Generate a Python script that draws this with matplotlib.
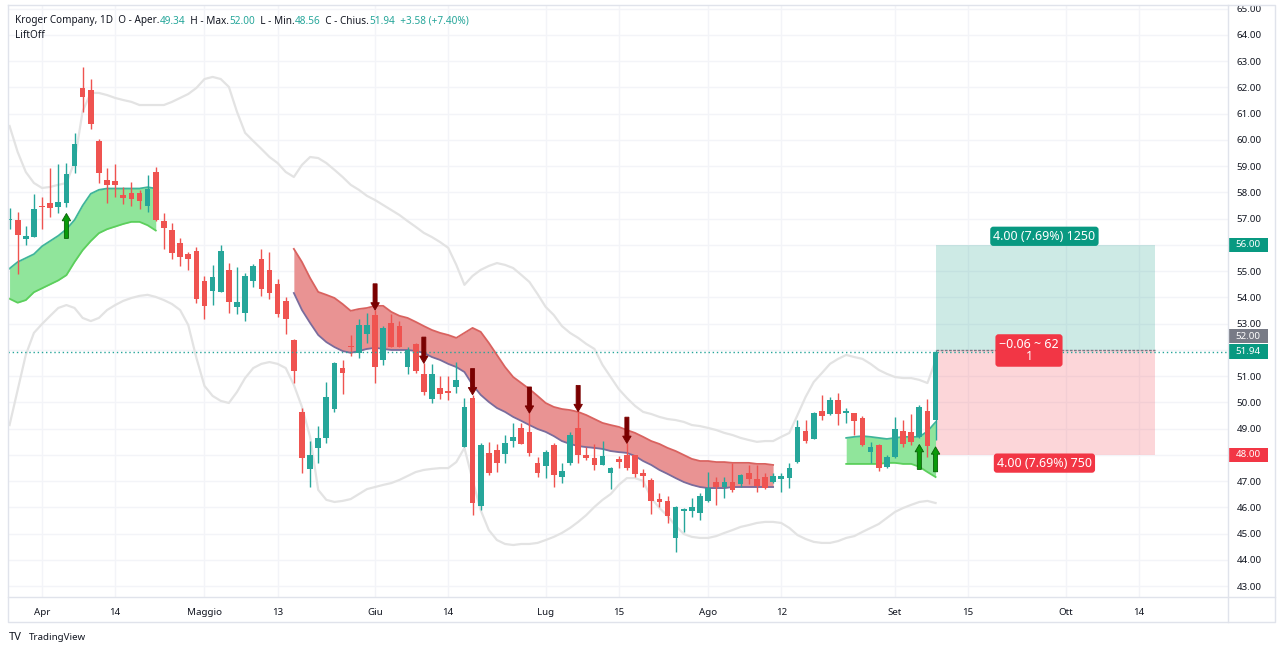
import matplotlib
matplotlib.use("Agg")
import matplotlib.pyplot as plt
from matplotlib.patches import Rectangle
from matplotlib.transforms import IdentityTransform, blended_transform_factory
import numpy as np

plt.rcParams["font.family"] = ["Noto Sans", "DejaVu Sans"]

# ---- data (bar index 0 = 1 Apr 2022, daily bars) ----
first_bar = -4
opens = [56.95, 56.95, 56.23, 56.32, 57.5, 57.59, 57.46, 57.59, 59.01, 61.97,
         61.9, 59.96, 58.48, 58.45, 57.9, 57.97, 57.99, 57.49, 58.79, 56.91,
         56.57, 56.06, 55.64, 55.77, 54.64, 54.25, 54.22, 55.05, 53.63, 53.42,
         54.64, 55.45, 55.05, 54.5, 53.88, 52.38, 49.63, 47.46, 48.28, 48.64,
         49.75, 51.33, 52.15, 51.9, 52.61, 53.33, 51.62, 53.04, 52.91, 51.36,
         52.23, 51.09, 50.12, 50.56, 50.45, 50.6, 48.32, 50.16, 46.06, 48.09,
         48.19, 48.04, 48.55, 49.04, 48.89, 47.71, 47.58, 48.38, 47.17, 47.68,
         49.02, 48.0, 47.9, 47.62, 47.3, 47.83, 48.0, 48.0, 47.3, 47.05,
         46.31, 46.26, 44.85, 45.88, 45.87, 45.78, 46.26, 46.96, 46.79, 46.98,
         46.9, 47.3, 47.07, 47.17, 46.98, 47.07, 47.11, 47.75, 48.91, 48.61,
         49.69, 49.56, 50.1, 49.61, 49.59, 49.4, 48.13, 48.38, 47.53, 47.94,
         48.93, 48.89, 48.7, 49.69, 49.34]
highs = [57.4, 57.25, 56.74, 57.93, 57.84, 58.94, 59.1, 59.14, 60.28, 62.77,
         62.32, 60.03, 58.94, 59.09, 58.2, 58.4, 58.1, 58.67, 58.96, 57.23,
         56.83, 56.25, 55.75, 55.94, 54.82, 55.24, 56.0, 55.3, 55.15, 54.94,
         55.28, 55.84, 55.75, 54.69, 54.03, 52.4, 49.78, 48.54, 49.1, 50.79,
         51.55, 51.62, 52.57, 53.17, 53.42, 53.52, 52.9, 53.37, 53.12, 52.13,
         52.28, 51.49, 51.47, 51.01, 51.0, 51.55, 50.16, 50.29, 48.47, 48.51,
         48.42, 48.76, 49.21, 49.23, 49.59, 47.94, 48.19, 48.47, 47.68, 48.89,
         49.65, 48.29, 48.42, 48.54, 47.56, 47.96, 48.44, 48.0, 47.45, 47.11,
         46.56, 46.44, 46.06, 45.97, 46.35, 46.56, 47.36, 47.17, 47.17, 47.68,
         47.28, 47.62, 47.62, 47.3, 47.33, 47.33, 47.71, 49.33, 49.33, 49.65,
         50.29, 50.22, 50.37, 49.78, 49.61, 49.49, 48.51, 48.42, 48.0, 49.44,
         49.33, 49.56, 49.9, 50.12, 52.0]
lows = [56.6, 54.9, 56.0, 56.3, 56.6, 57.08, 57.2, 57.45, 58.75, 61.08,
        60.42, 58.35, 57.61, 57.82, 57.56, 57.5, 57.36, 57.27, 56.9, 55.84,
        55.46, 55.2, 55.05, 53.78, 53.17, 53.71, 54.2, 53.4, 53.37, 53.12,
        54.39, 54.06, 53.94, 53.25, 52.61, 50.73, 47.33, 46.77, 47.68, 48.47,
        49.63, 50.32, 51.77, 51.71, 52.28, 50.73, 51.43, 52.1, 52.1, 51.09,
        51.14, 50.3, 49.97, 50.12, 50.1, 50.35, 48.3, 45.71, 45.9, 47.25,
        47.36, 47.68, 48.32, 48.4, 47.96, 47.17, 47.11, 46.77, 46.95, 47.62,
        47.68, 47.81, 47.43, 47.6, 46.7, 47.5, 47.43, 47.17, 46.77, 45.75,
        46.03, 45.4, 44.32, 45.08, 45.65, 45.52, 46.2, 46.1, 46.35, 46.6,
        46.79, 46.9, 46.6, 46.69, 46.92, 46.6, 46.73, 47.7, 48.44, 48.6,
        49.33, 49.52, 49.14, 49.21, 48.76, 48.35, 47.71, 47.4, 47.49, 47.9,
        48.29, 48.38, 48.65, 47.94, 48.56]
closes = [57.0, 56.38, 56.34, 57.36, 57.45, 57.42, 57.63, 58.7, 59.85, 61.63,
          60.61, 58.73, 58.29, 58.3, 57.78, 57.74, 57.69, 58.12, 56.95, 56.66,
          55.71, 55.55, 55.45, 53.93, 53.68, 54.79, 55.77, 53.82, 53.84, 54.83,
          55.18, 54.31, 54.18, 53.36, 53.17, 51.21, 47.87, 48.0, 48.64, 50.22,
          51.49, 51.14, 52.1, 52.95, 52.95, 51.34, 52.85, 52.13, 52.13, 52.0,
          51.21, 50.41, 51.09, 50.31, 50.37, 50.86, 49.82, 46.18, 48.38, 47.3,
          47.71, 48.44, 48.7, 48.42, 48.06, 47.33, 48.13, 47.24, 47.4, 48.76,
          48.0, 47.87, 47.6, 47.96, 47.52, 47.73, 47.52, 47.28, 47.2, 46.25,
          46.22, 45.68, 46.03, 45.93, 46.03, 46.44, 46.73, 46.77, 46.98, 46.67,
          47.24, 47.07, 46.82, 46.73, 47.2, 47.2, 47.49, 49.05, 48.55, 49.61,
          49.49, 50.1, 49.56, 49.68, 49.31, 48.38, 48.29, 47.49, 47.94, 48.98,
          48.42, 48.51, 49.84, 48.34, 51.94]

bb_upper = [60.53, 59.54, 58.78, 58.36, 58.17, 58.21, 58.29, 58.36, 59.16, 61.1,
            61.79, 61.79, 61.71, 61.6, 61.52, 61.45, 61.33, 61.33, 61.33, 61.33,
            61.45, 61.6, 61.75, 61.98, 62.32, 62.4, 62.32, 62.02, 61.07, 60.27,
            59.96, 59.66, 59.35, 59.12, 58.78, 58.59, 59.05, 59.35, 59.31, 59.12,
            58.86, 58.59, 58.29, 58.1, 57.87, 57.71, 57.52, 57.33, 57.14, 56.91,
            56.69, 56.46, 56.3, 56.11, 55.89, 55.24, 54.48, 54.82, 55.05, 55.2,
            55.31, 55.24, 55.12, 54.86, 54.59, 54.13, 53.64, 53.33, 52.91, 52.65,
            52.46, 52.23, 52.04, 51.43, 50.97, 50.51, 50.17, 49.87, 49.64, 49.56,
            49.45, 49.37, 49.33, 49.26, 49.14, 49.1, 49.03, 48.95, 48.84, 48.76,
            48.65, 48.57, 48.5, 48.53, 48.53, 48.69, 48.84, 49.52, 50.21, 50.78,
            51.12, 51.47, 51.66, 51.81, 51.73, 51.66, 51.47, 51.24, 51.09, 50.97,
            50.93, 50.93, 50.86, 50.74, 51.6]
bb_lower = [49.14, 50.48, 51.81, 52.65, 52.99, 53.3, 53.6, 53.71, 53.6, 53.22,
            53.1, 53.22, 53.52, 53.71, 53.87, 53.98, 54.06, 54.1, 54.02, 53.9,
            53.75, 53.52, 52.95, 51.7, 50.63, 50.25, 50.06, 49.98, 50.4, 50.93,
            51.31, 51.47, 51.54, 51.47, 51.31, 50.67, 49.83, 48.69, 46.67, 46.29,
            46.21, 46.25, 46.32, 46.51, 46.7, 46.78, 46.86, 46.93, 47.05, 47.2,
            47.35, 47.43, 47.47, 47.5, 47.5, 47.73, 48.27, 47.05, 45.9, 45.14,
            44.76, 44.61, 44.57, 44.61, 44.61, 44.65, 44.76, 44.88, 45.03, 45.22,
            45.45, 45.71, 46.02, 46.29, 46.51, 46.86, 47.12, 47.12, 47.01, 46.36,
            45.98, 45.68, 45.3, 44.99, 44.88, 44.84, 44.84, 44.91, 45.03, 45.14,
            45.26, 45.33, 45.41, 45.45, 45.45, 45.41, 45.22, 44.95, 44.8, 44.69,
            44.65, 44.65, 44.72, 44.84, 44.91, 45.07, 45.22, 45.37, 45.6, 45.83,
            45.98, 46.1, 46.21, 46.25, 46.17]

# LiftOff channels: (first bar, upper edge, lower edge)
green1_start = -4
green1_upper = [55.1, 55.35, 55.5, 55.65, 55.95, 56.15, 56.35, 56.6, 56.95, 57.5,
                57.95, 58.1, 58.15, 58.15, 58.15, 58.15, 58.15, 58.2, 58.15]
green1_lower = [53.95, 53.8, 53.9, 54.2, 54.35, 54.5, 54.65, 54.85, 55.35, 55.8,
                56.15, 56.45, 56.6, 56.7, 56.8, 56.88, 56.88, 56.75, 56.55]
red_start = 31
red_upper = [55.85, 55.35, 54.74, 54.21, 54.1, 53.98, 53.75, 53.49, 53.56, 53.6,
             53.68, 53.68, 53.45, 53.3, 53.22, 53.07, 52.91, 52.76, 52.65, 52.57,
             52.46, 52.65, 52.84, 52.69, 52.27, 51.81, 51.35, 50.97, 50.74, 50.51,
             50.25, 49.98, 49.83, 49.75, 49.71, 49.64, 49.52, 49.37, 49.22, 49.14,
             49.07, 48.95, 48.84, 48.69, 48.53, 48.42, 48.27, 48.15, 48.0, 47.85,
             47.77, 47.77, 47.73, 47.73, 47.7, 47.7, 47.7, 47.66, 47.66, 47.62]
red_lower = [54.17, 53.52, 53.03, 52.57, 52.3, 52.11, 51.96, 51.89, 51.96, 52.04,
             52.08, 52.04, 52.0, 52.0, 52.0, 51.96, 51.89, 51.73, 51.62, 51.47,
             51.35, 51.16, 50.67, 50.29, 50.02, 49.79, 49.64, 49.45, 49.3, 49.14,
             48.99, 48.88, 48.72, 48.53, 48.42, 48.34, 48.3, 48.27, 48.23, 48.15,
             48.11, 48.08, 47.96, 47.77, 47.62, 47.43, 47.28, 47.12, 46.97, 46.86,
             46.78, 46.74, 46.74, 46.74, 46.78, 46.78, 46.78, 46.78, 46.78, 46.78]
green2_start = 99
green2_upper = [48.65, 48.69, 48.72, 48.69, 48.65, 48.61, 48.65, 48.69, 48.69, 48.69,
                48.9, 49.25]
green2_lower = [47.66, 47.66, 47.66, 47.66, 47.66, 47.7, 47.7, 47.66, 47.66, 47.55,
                47.35, 47.16]

buy_bars = [3, 108, 110]
sell_bars = [41, 47, 53, 60, 66, 72]

# long position tool
entry, target, stop = 52.00, 56.00, 48.00
last_close = 51.94
pos_start, pos_end = 110, 137

tick_bars = [0, 9, 20, 29, 41, 50, 62, 71, 82, 91, 105, 114, 126, 135]
tick_labels = ["Apr", "14", "Maggio", "13", "Giu", "14", "Lug", "15", "Ago", "12",
               "Set", "15", "Ott", "14"]

TEAL = "#26a69a"
RED = "#ef5350"
TXT = "#131722"
GRID = "#f3f4f8"

W, H = 1280, 653
fig = plt.figure(figsize=(W / 100, H / 100), dpi=100)
fig.patch.set_facecolor("white")

# axes box in pixels: x 8..1228, y 5..597
ax = fig.add_axes([8 / W, (H - 597) / H, 1220 / W, 592 / H])
ax.set_xlim(-4.19, 146.0)
ax.set_ylim(42.59, 65.14)
for s in ax.spines.values():
    s.set_visible(False)

ax.set_yticks(np.arange(43, 66, 1.0))
ax.set_yticklabels([f"{v:.2f}" for v in np.arange(43, 66, 1.0)])
ax.yaxis.tick_right()
ax.set_xticks(tick_bars)
ax.set_xticklabels(tick_labels)
ax.tick_params(length=0, labelsize=7, colors=TXT)
ax.tick_params(axis="y", pad=6)
ax.tick_params(axis="x", pad=8)
ax.grid(True, color=GRID, lw=1)
ax.set_axisbelow(True)

bars = np.arange(first_bar, first_bar + len(opens))
o, h, l, c = (np.array(a) for a in (opens, highs, lows, closes))

# bollinger-like envelope
ax.plot(bars, bb_upper, color="#e3e3e3", lw=1.6, zorder=1)
ax.plot(bars, bb_lower, color="#e3e3e3", lw=1.6, zorder=1)


def channel(start, upper, lower, fill, c_up, c_lo):
    xs = np.arange(start, start + len(upper))
    ax.fill_between(xs, lower, upper, color=fill, lw=0, zorder=2)
    ax.plot(xs, upper, color=c_up, lw=1.3, zorder=2)
    ax.plot(xs, lower, color=c_lo, lw=1.3, zorder=2)


channel(green1_start, green1_upper, green1_lower, "#90e59b", "#3fb59a", "#5ccf5c")
channel(red_start, red_upper, red_lower, "#e99393", "#d9625f", "#7a6c9c")
channel(green2_start, green2_upper, green2_lower, "#90e59b", "#3fb59a", "#5ccf5c")

# candles
cols = np.where(c >= o, TEAL, RED)
ax.vlines(bars, l, h, colors=cols, lw=1, zorder=3)
ax.bar(bars, np.maximum(np.abs(c - o), 0.05), bottom=np.minimum(o, c), width=0.7,
       color=cols, lw=0, zorder=3)

# signal arrows
for b in sell_bars:
    top = highs[b - first_bar]
    ax.arrow(b, top + 1.0, 0, -0.72, width=0.5, head_width=1.05, head_length=0.28,
             length_includes_head=False, color="#7a0000", lw=0.6, zorder=4)
for b in buy_bars:
    bot = lows[b - first_bar] - 0.25
    ax.arrow(b, bot - 0.95, 0, 0.67, width=0.5, head_width=1.05, head_length=0.28,
             length_includes_head=False, fc="#0a9a0a", ec="#075f07", lw=0.6, zorder=4)

# position tool
ax.fill_between([pos_start, pos_end], entry, target, color="#089981", alpha=0.2, lw=0, zorder=2)
ax.fill_between([pos_start, pos_end], stop, entry, color="#f23645", alpha=0.2, lw=0, zorder=2)
ax.plot([pos_start, pos_end], [entry, entry], color="#787b86", lw=1, ls=(0, (2, 1)), zorder=3)
ax.axhline(last_close, color=TEAL, lw=1, ls=(0, (1, 2)), zorder=3)

mid = (pos_start + pos_end) / 2
lab = dict(color="white", fontsize=9, ha="center", zorder=6)
ax.text(mid - 0.1, target + 0.33, f"{target - entry:.2f} (7.69%) 1250", va="center",
        bbox=dict(boxstyle="round,pad=0.25,rounding_size=0.25", fc="#089981", ec="none"), **lab)
ax.text(mid - 0.1, stop - 0.31, f"{entry - stop:.2f} (7.69%) 750", va="center",
        bbox=dict(boxstyle="round,pad=0.25,rounding_size=0.25", fc="#f23645", ec="none"), **lab)
ax.text(mid - 2.0, entry - 0.02, "\u22120.06 ~ 62\n1", va="center", linespacing=0.9,
        bbox=dict(boxstyle="round,pad=0.3,rounding_size=0.25", fc="#f23645", ec="none"), **lab)

# price scale labels
tr = blended_transform_factory(ax.transAxes, ax.transData)
bw = 40 / 1220
for val, shown, fc in [(target, target, "#089981"), (entry + 0.53, entry, "#787b86"),
                       (last_close, last_close, "#089981"), (stop, stop, "#f23645")]:
    ax.add_patch(Rectangle((1.0, val - 0.27), bw, 0.54, transform=tr, fc=fc, ec="none",
                           clip_on=False, zorder=7))
    ax.text(1.0 + bw / 2, val, f"{shown:.2f}", transform=tr, color="white", fontsize=7,
            ha="center", va="center", zorder=8, clip_on=False)

# frame lines (pixel coords)
px = IdentityTransform()
fr = dict(color="#e0e3eb", lw=1, transform=px)
fig.add_artist(plt.Line2D([8, 1275, 1275, 8, 8], [H - 5, H - 5, H - 622, H - 622, H - 5], **fr))
fig.add_artist(plt.Line2D([1228, 1228], [H - 5, H - 622], **fr))
fig.add_artist(plt.Line2D([8, 1275], [H - 597, H - 597], **fr))

# header with coloured values
renderer = fig.canvas.get_renderer()
parts = [("Kroger Company, 1D  O - Aper.", TXT), ("49.34", TEAL), ("  H - Max.", TXT),
         ("52.00", TEAL), ("  L - Min.", TXT), ("48.56", TEAL), ("  C - Chius.", TXT),
         ("51.94", TEAL), ("  +3.58 (+7.40%)", TEAL)]
x0 = 15
for s, col in parts:
    t = fig.text(x0, H - 21, s, color=col, fontsize=7.2, va="center", transform=px)
    x0 = t.get_window_extent(renderer).x1
fig.text(15, H - 35, "LiftOff", color=TXT, fontsize=7.2, va="center", transform=px)

fig.text(9, H - 637, "TV", color=TXT, fontsize=8, fontweight="bold", va="center", transform=px)
fig.text(29, H - 637, "TradingView", color=TXT, fontsize=7, va="center", transform=px)

fig.savefig("out.png", dpi=100, facecolor="white")
